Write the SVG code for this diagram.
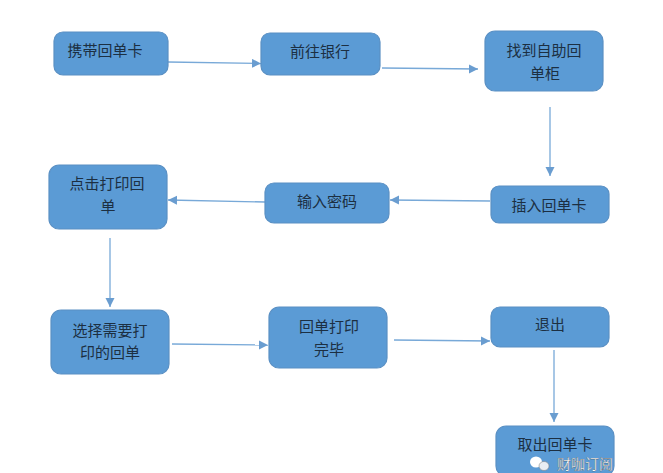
<svg xmlns="http://www.w3.org/2000/svg" width="663" height="473" viewBox="0 0 663 473">
<style>
.n{fill:#5b9bd5;stroke:#5a90c4;stroke-width:1.2}
.t{font:15px "Noto Sans CJK SC","Liberation Sans",sans-serif;fill:#1c2f42;text-anchor:middle}
.c{fill:none;stroke:#78a9d8;stroke-width:1.3;marker-end:url(#a)}
.w{font:14px "Noto Sans CJK SC","Liberation Sans",sans-serif;fill:#fff;stroke:#444;stroke-width:.25}
</style>
<defs><marker id="a" markerUnits="userSpaceOnUse" markerWidth="10" markerHeight="10" refX="9" refY="4.5" orient="auto"><path d="M0 0L9 4.5L0 9Z" fill="#6a9dd0"/></marker></defs>
<rect width="663" height="473" fill="#fff"/>
<g id="connectors">
<path class="c" d="M168 62L261 63.500"/>
<path class="c" d="M382 68L478 69"/>
<path class="c" d="M550 107V176"/>
<path class="c" d="M490 201L390 200"/>
<path class="c" d="M265 202L168 200"/>
<path class="c" d="M110 238V307"/>
<path class="c" d="M172 344L268 345"/>
<path class="c" d="M394 340L490 341"/>
<path class="c" d="M554 350V422"/>
</g>
<g id="n1"><rect class="n" x="54" y="32" width="114" height="43" rx="9"/><text class="t" x="105" y="56">携带回单卡</text></g>
<g id="n2"><rect class="n" x="261" y="33" width="119" height="42" rx="9"/><text class="t" x="320" y="57">前往银行</text></g>
<g id="n3"><rect class="n" x="485" y="31" width="118" height="60" rx="10"/><text class="t" x="544" y="56">找到自助回</text><text class="t" x="545" y="79">单柜</text></g>
<g id="n4"><rect class="n" x="491" y="186" width="118" height="37" rx="8"/><text class="t" x="549" y="211">插入回单卡</text></g>
<g id="n5"><rect class="n" x="265" y="183" width="124" height="40" rx="9"/><text class="t" x="327" y="207">输入密码</text></g>
<g id="n6"><rect class="n" x="49" y="165" width="118" height="64" rx="10"/><text class="t" x="107" y="189">点击打印回</text><text class="t" x="108" y="212">单</text></g>
<g id="n7"><rect class="n" x="51" y="310" width="118" height="64" rx="10"/><text class="t" x="110" y="336">选择需要打</text><text class="t" x="110" y="358">印的回单</text></g>
<g id="n8"><rect class="n" x="269" y="307" width="118" height="61" rx="10"/><text class="t" x="329" y="332">回单打印</text><text class="t" x="329" y="355">完毕</text></g>
<g id="n9"><rect class="n" x="491" y="307" width="118" height="40" rx="9"/><text class="t" x="550" y="330">退出</text></g>
<g id="n10"><rect class="n" x="496" y="426" width="118" height="50" rx="10"/><text class="t" x="555" y="450">取出回单卡</text></g>
<g id="watermark"><ellipse cx="536" cy="462" rx="6" ry="5.500" fill="#fff"/><ellipse cx="544" cy="466" rx="5" ry="4.500" fill="#e8eef4" stroke="#777" stroke-width=".5"/><text class="w" x="557" y="469">财咖订阅</text></g>
</svg>
